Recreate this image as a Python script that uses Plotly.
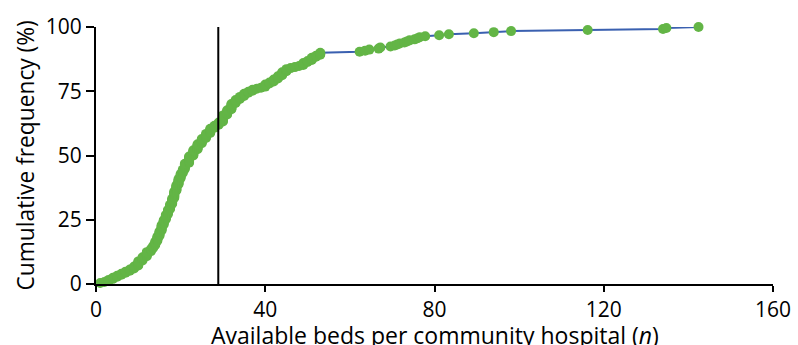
import numpy as np
import plotly.graph_objects as go

# Available beds per community hospital and number of hospitals with that bed count
beds = [1, 2, 3, 4, 5, 6, 7, 8, 9, 10, 11, 12,
        13, 13.5, 14, 14.5, 15, 15.5, 16, 16.5, 17, 17.5, 18, 18.5, 19, 19.5, 20, 20.5,
        21, 22, 23, 24, 25, 26, 27, 28, 29, 30, 31, 32, 33, 34, 35, 36, 37, 38, 39, 40,
        41, 42, 43, 44, 45, 46, 47, 48, 49, 50, 51, 52, 53,
        62.3, 63.6, 64.6, 66.8, 67.2, 69.6, 70.6, 71.2, 71.8, 72.9, 73.5, 74.1, 75.3,
        76.0, 76.5, 77.8, 81.1, 83.4, 89.3, 94.0, 98.1, 116.2, 134.0, 134.8, 142.4]
hospitals = [1, 1, 2, 2, 2, 2, 2, 2, 3, 5, 4, 5,
             3, 3, 4, 5, 5, 6, 5, 5, 5, 5, 6, 7, 6, 6, 5, 4,
             6, 7, 6, 6, 5, 5, 5, 3, 3, 7, 5, 6, 4, 3, 3, 2, 2, 1, 1, 3,
             2, 3, 3, 4, 3, 1, 1, 1, 3, 2, 3, 2, 3,
             1, 1, 1, 1, 1, 1, 1, 1, 1, 1, 1, 1, 1,
             1, 1, 1, 1, 1, 1, 1, 1, 1, 1, 1, 1]
reference_beds = 28.9

x_ticks = [0, 40, 80, 120, 160]
y_ticks = [0, 25, 50, 75, 100]

# one point per hospital, cumulative percentage
x_pts = np.repeat(beds, hospitals)
n_total = len(x_pts)
y_pts = np.arange(1, n_total + 1) / n_total * 100

FONT = "Open Sans"

fig = go.Figure()
fig.add_trace(go.Scatter(
    x=x_pts, y=y_pts, mode="lines",
    line=dict(color="#3a60b0", width=2),
    cliponaxis=False, hoverinfo="skip", showlegend=False))
fig.add_trace(go.Scatter(
    x=x_pts, y=y_pts, mode="markers",
    marker=dict(color="#63b546", size=10, line=dict(width=0)),
    cliponaxis=False, showlegend=False))

fig.add_shape(type="line", xref="x", yref="y", x0=reference_beds, x1=reference_beds,
              y0=0, y1=100, line=dict(color="black", width=2), layer="above")

fig.update_layout(
    width=798, height=345,
    margin=dict(l=96, r=25, t=27, b=61),
    paper_bgcolor="white", plot_bgcolor="white",
    font=dict(family=FONT, size=21, color="black"),
    xaxis=dict(range=[0, 160], tickvals=x_ticks, ticktext=[str(v) for v in x_ticks],
               showgrid=False, zeroline=False, showline=True, linecolor="black",
               linewidth=2, ticks="outside", ticklen=6, tickwidth=2, tickcolor="black",
               tickfont=dict(size=21), automargin=False),
    yaxis=dict(range=[0, 100], tickvals=y_ticks, ticktext=[str(v) for v in y_ticks],
               showgrid=False, zeroline=False, showline=True, linecolor="black",
               linewidth=2, ticks="outside", ticklen=8, tickwidth=2, tickcolor="black",
               tickfont=dict(size=21), automargin=False),
    annotations=[
        dict(text="Available beds per community hospital (<i>n</i>)", xref="paper", yref="paper",
             x=0.5, y=0, yshift=-33, xanchor="center", yanchor="top", showarrow=False,
             font=dict(size=23)),
        dict(text="Cumulative frequency (%)", xref="paper", yref="paper",
             x=0, y=0.5, xshift=-71, xanchor="center", yanchor="middle", textangle=-90,
             showarrow=False, font=dict(size=22.75)),
    ],
)

fig.write_html("out.html", config={"displayModeBar": False},
               post_script="document.body.style.margin='0';document.body.style.overflow='hidden';")
